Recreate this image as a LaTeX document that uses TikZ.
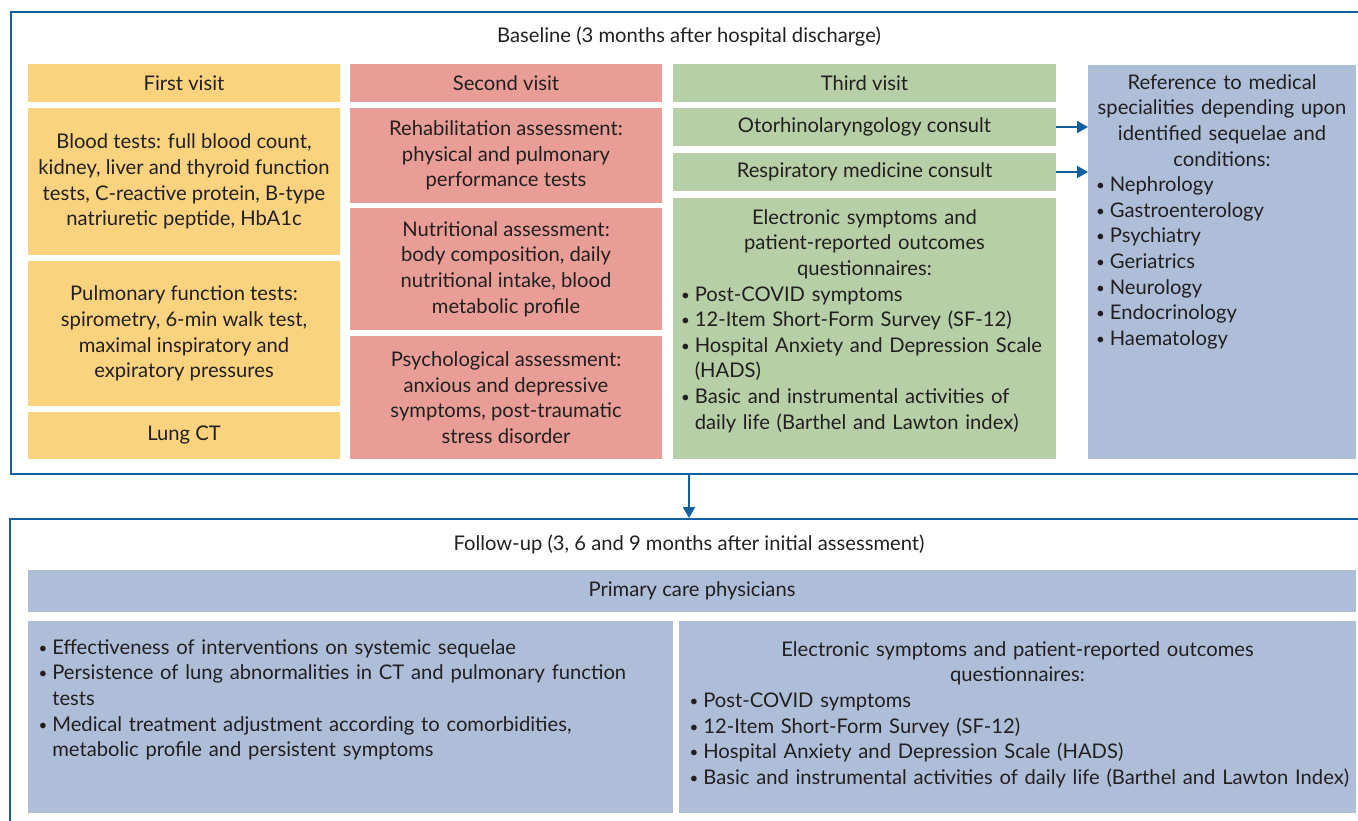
\documentclass[tikz,border=0pt]{standalone}
\usepackage{fontspec}
\setmainfont{Lato}
\usetikzlibrary{arrows.meta,calc}

\definecolor{visitone}{RGB}{251,211,126}
\definecolor{visittwo}{RGB}{232,158,151}
\definecolor{visitthree}{RGB}{182,207,166}
\definecolor{refblue}{RGB}{174,190,216}
\definecolor{frameblue}{RGB}{16,96,160}
\definecolor{inktext}{RGB}{35,31,32}

\hyphenpenalty=10000
\newcommand{\boxfont}{\fontsize{10.1}{12.8}\selectfont}
\newcommand{\bl}{\raisebox{0.1ex}{\scalebox{0.75}{\textbullet}}\hspace{0.25em}}
\newcommand{\bitem}[1]{\mbox{\bl #1}}
\newcommand{\cont}[1]{\mbox{\phantom{\bl}#1}}

\tikzset{
  sz/.style 2 args={minimum width={#1*0.5pt},minimum height={#2*0.5pt}},
  panel/.style={draw=frameblue,line width=1pt,inner sep=0pt},
  cell/.style={inner sep=0pt,outer sep=0pt,align=center,text=inktext,font=\boxfont},
  yellowcell/.style={cell,fill=visitone},
  pinkcell/.style={cell,fill=visittwo},
  greencell/.style={cell,fill=visitthree},
  bluecell/.style={cell,fill=refblue},
  boxtext/.style={inner sep=0pt,align=left,text=inktext,font=\boxfont,anchor=north},
  conn/.style={draw=frameblue,line width=1pt,-{Triangle[length=5.5pt,width=6pt]}}
}

\begin{document}
\begin{tikzpicture}[x=0.5pt,y=-0.5pt]
\clip (0,0) rectangle (1358,820);

% baseline frame
\node[panel,sz={1409}{462}] (base) at (715.5,243) {};
\node[cell] (basetitle) at (689,37) {Baseline (3 months after hospital discharge)};

% first visit
\node[yellowcell,sz={312}{38}] (visA) at (184,83) {First visit};
\node[yellowcell,sz={312}{147}] (blood) at (184,181.5) {Blood tests: full blood count,\\ kidney, liver and thyroid function\\ tests, C-reactive protein, B-type\\ natriuretic peptide, HbA1c};
\node[yellowcell,sz={312}{145}] (pulm) at (184,333.5) {Pulmonary function tests:\\ spirometry, 6-min walk test,\\ maximal inspiratory and\\ expiratory pressures};
\node[yellowcell,sz={312}{47}] (ct) at (184,435.5) {Lung CT};

% second visit
\node[pinkcell,sz={312}{38}] (visB) at (506,83) {Second visit};
\node[pinkcell,sz={312}{95}] (rehab) at (506,155.5) {Rehabilitation assessment:\\ physical and pulmonary\\ performance tests};
\node[pinkcell,sz={312}{122}] (nutri) at (506,269) {Nutritional assessment:\\ body composition, daily\\ nutritional intake, blood\\ metabolic profile};
\node[pinkcell,sz={312}{123}] (psych) at (506,397.5) {Psychological assessment:\\ anxious and depressive\\ symptoms, post-traumatic\\ stress disorder};

% third visit
\node[greencell,sz={383}{38}] (visC) at (864.5,83) {Third visit};
\node[greencell,sz={383}{38}] (oto) at (864.5,127) {Otorhinolaryngology consult};
\node[greencell,sz={383}{38}] (resp) at (864.5,172) {Respiratory medicine consult};
\node[greencell,sz={383}{261}] (epro) at (864.5,328.5) {};
\node[boxtext,text width=183.5pt] (eprotext) at ([yshift=-5.5pt]epro.north) {{\centering Electronic symptoms and\\ patient-reported outcomes\\ questionnaires:\par}
\bitem{Post-COVID symptoms}\\
\bitem{12-Item Short-Form Survey (SF-12)}\\
\bitem{Hospital Anxiety and Depression Scale}\\
\cont{(HADS)}\\
\bitem{Basic and instrumental activities of}\\
\cont{daily life (Barthel and Lawton index)}};

% referrals
\node[bluecell,sz={268}{394}] (refs) at (1222,262) {};
\node[boxtext,text width=126pt] (refstext) at ([yshift=-4.5pt]refs.north) {{\centering Reference to medical\\ specialities depending upon\\ identified sequelae and\\ conditions:\par}
\bitem{Nephrology}\\
\bitem{Gastroenterology}\\
\bitem{Psychiatry}\\
\bitem{Geriatrics}\\
\bitem{Neurology}\\
\bitem{Endocrinology}\\
\bitem{Haematology}};

\draw[conn] (oto.east) -- (oto.east -| refs.west);
\draw[conn] (resp.east) -- (resp.east -| refs.west);

% follow-up frame
\node[panel,sz={1410}{341}] (follow) at (715,689.5) {};
\node[cell] (followtitle) at (689,544) {Follow-up (3, 6 and 9 months after initial assessment)};
\coordinate (mid) at (689,0);
\draw[conn] (base.south -| mid) -- (follow.north -| mid);

\node[bluecell,sz={1328}{42}] (pcp) at (692,591) {Primary care physicians};
\node[bluecell,sz={645}{192}] (aims) at (350.5,717) {};
\node[boxtext,text width=312pt] (aimstext) at ([yshift=-9pt]aims.north) {
\bitem{Effectiveness of interventions on systemic sequelae}\\
\bitem{Persistence of lung abnormalities in CT and pulmonary function}\\
\cont{tests}\\
\bitem{Medical treatment adjustment according to comorbidities,}\\
\cont{metabolic profile and persistent symptoms}};
\node[bluecell,sz={677}{192}] (quest) at (1017.5,717) {};
\node[boxtext,text width=328pt] (questtext) at ([yshift=-10pt]quest.north) {{\centering Electronic symptoms and patient-reported outcomes\\ questionnaires:\par}
\bitem{Post-COVID symptoms}\\
\bitem{12-Item Short-Form Survey (SF-12)}\\
\bitem{Hospital Anxiety and Depression Scale (HADS)}\\
\bitem{Basic and instrumental activities of daily life (Barthel and Lawton Index)}};

\end{tikzpicture}
\end{document}
